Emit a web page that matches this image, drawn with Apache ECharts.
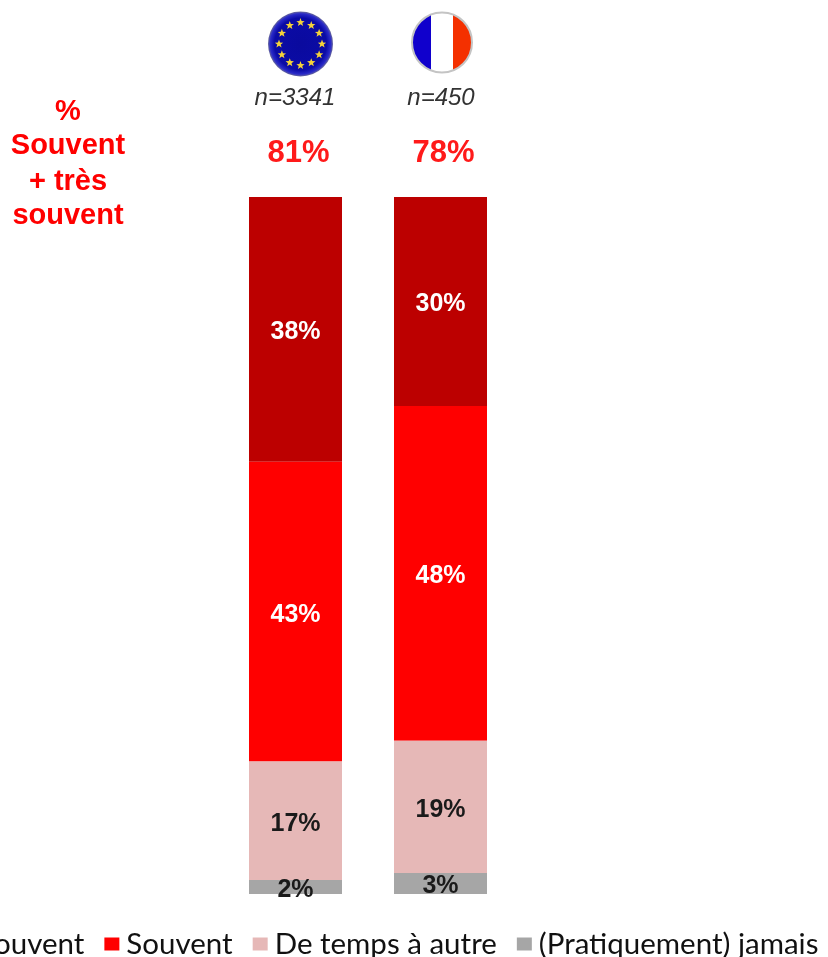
<!DOCTYPE html>
<html>
<head>
<meta charset="utf-8">
<style>html,body{margin:0;padding:0;background:#fff;overflow:hidden}#c{width:828px;height:957px}</style>
<script src="https://cdn.jsdelivr.net/npm/echarts@6/dist/echarts.min.js"></script>
</head>
<body>
<div id="c"></div>
<script>
// Fréquence déclarée : Union européenne et France
const categories = ['UE', 'France'];
const sampleSizes = ['n=3341', 'n=450'];
const combinedTotals = ['81%', '78%'];
const tresSouvent = [38, 30];
const souvent = [43, 48];
const deTempsAAutre = [17, 19];
const jamais = [2, 3];
const seriesNames = ['Très souvent', 'Souvent', 'De temps à autre', '(Pratiquement) jamais'];
const seriesColors = ['#BC0000', '#FF0000', '#E6B8B7', '#A6A6A6'];
const labelColors = ['#fff', '#fff', '#1a1a1a', '#1a1a1a'];
const sideTitle = ['%', 'Souvent', '+ très', 'souvent'];

const chart = echarts.init(document.getElementById('c'), null, {renderer: 'canvas'});
const values = [tresSouvent, souvent, deTempsAAutre, jamais];
const sans = '"Liberation Sans", Arial, sans-serif';

chart.setOption({
  animation: false,
  backgroundColor: '#fff',
  grid: {left: 223, top: 197, width: 290, height: 697},
  xAxis: {type: 'category', data: categories, show: false},
  yAxis: {type: 'value', min: 0, max: 100, inverse: true, show: false},
  legend: {
    data: seriesNames,
    left: -106, top: 924, width: 1200,
    icon: 'rect', itemWidth: 15, itemHeight: 13, itemGap: 20,
    textStyle: {fontFamily: 'Lato, Carlito, sans-serif', fontSize: 29.5, color: '#111', padding: [0, 0, 0, 2]}
  },
  series: seriesNames.map((name, i) => ({
    name, type: 'bar', stack: 'total', barWidth: 93,
    data: values[i],
    itemStyle: {color: seriesColors[i]},
    label: {
      show: true, position: 'inside', offset: [0, 3], formatter: '{c}%',
      fontFamily: sans, fontWeight: 'bold', fontSize: 25, color: labelColors[i]
    }
  }))
});

// Drapeaux, effectifs et totaux placés au-dessus de chaque colonne
const centers = categories.map(c => chart.convertToPixel({xAxisIndex: 0}, c));
const star = (cx, cy, r) => ({
  type: 'polygon', silent: true,
  shape: {points: Array.from({length: 10}, (_, k) => {
    const a = -Math.PI / 2 + k * Math.PI / 5, q = k % 2 ? r * 0.42 : r;
    return [cx + q * Math.cos(a), cy + q * Math.sin(a)];
  })},
  style: {fill: '#F5D33A'}
});
const euX = centers[0] + 5, euY = 44;
const frX = centers[1] + 1.5, frY = 42.5;
const ring = Array.from({length: 12}, (_, k) => {
  const a = k * Math.PI / 6;
  return star(euX + 21.5 * Math.cos(a), euY + 21.5 * Math.sin(a), 4.4);
});
const text = (x, y, t, font, fill) => ({
  type: 'text', silent: true, x, y,
  style: {text: t, font, fill, align: 'center', verticalAlign: 'middle'}
});

chart.setOption({
  graphic: [
    {type: 'circle', silent: true, shape: {cx: euX, cy: euY, r: 32.5},
      style: {fill: {type: 'radial', x: 0.5, y: 0.5, r: 0.5, colorStops: [
        {offset: 0, color: '#0A0A9E'}, {offset: 0.8, color: '#0B0BA6'},
        {offset: 0.93, color: '#2A2AC8'}, {offset: 1, color: '#6A6A9A'}]}}},
    ...ring,
    {type: 'circle', silent: true, shape: {cx: frX, cy: frY, r: 30},
      style: {stroke: '#C4C4C4', lineWidth: 2, fill: {type: 'linear', x: 0, y: 0, x2: 1, y2: 0, colorStops: [
        {offset: 0, color: '#1000CC'}, {offset: 0.33, color: '#1000CC'},
        {offset: 0.33, color: '#fff'}, {offset: 0.67, color: '#fff'},
        {offset: 0.67, color: '#F43000'}, {offset: 1, color: '#F43000'}]}}},
    ...sampleSizes.map((t, i) => text(centers[i] + (i ? 0.5 : -0.5), 98, t, `italic 24px ${sans}`, '#333')),
    ...combinedTotals.map((t, i) => text(centers[i] + 3, 153, t, `bold 31px ${sans}`, '#FF1A1A')),
    ...sideTitle.map((t, i) => text(68, [112, 146, 182, 216][i], t, `bold 29px ${sans}`, '#FF0000'))
  ]
});
</script>
</body>
</html>
